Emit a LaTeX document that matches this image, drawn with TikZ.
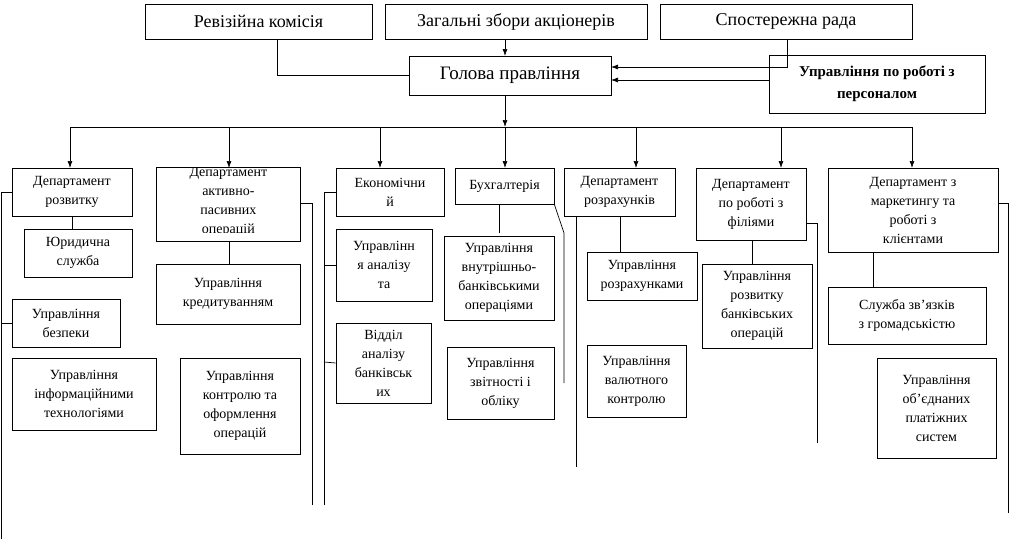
\documentclass[tikz,border=0pt]{standalone}
\usepackage{fontspec}
\setmainfont{Liberation Serif}
\usetikzlibrary{arrows.meta}
\begin{document}
\begin{tikzpicture}[x=1pt,y=-1pt,line width=0.7pt,
 bx/.style={draw,align=center,inner sep=0pt},
 sm/.style={font=\fontsize{14}{19}\selectfont},
 big/.style={font=\fontsize{18}{20}\selectfont},
 arr/.style={-{Latex[length=7pt,width=5pt]}}]
\useasboundingbox (0,0) rectangle (1011,539);
% top
\node[bx,big,minimum width=227pt,minimum height=35pt] (rev) at (258.5,21.5) {Ревізійна комісія};
\node[bx,big,minimum width=262pt,minimum height=35pt] (zag) at (516,21.5) {Загальні збори акціонерів};
\node[bx,big,minimum width=252pt,minimum height=35pt] (spo) at (786,21.5) {Спостережна рада};
\node[bx,font=\fontsize{19}{21}\selectfont,minimum width=202pt,minimum height=39pt] (hol) at (510,75.5) {Голова правління};
\node[bx,font=\bfseries\fontsize{15}{22}\selectfont,minimum width=216pt,minimum height=58pt] (per) at (877,84) {Управління по роботі з\\персоналом};
\draw (277,39) |- (hol.west);
\draw[arr] (505,39) -- (505,56);
\draw[arr] (787,39) |- (611,67);
\draw[arr] (per.west|-0,80) -- (611,80);
\draw[arr] (505,95) -- (505,127);
\draw (70,127) -- (912,127);
\foreach \x in {70,229,380,505,636,781,912} \draw[arr] (\x,127) -- (\x,168);
% departments
\node[bx,sm,minimum width=120pt,minimum height=48pt] (d1) at (72,192) {Департамент\\розвитку};
\begin{scope}
\clip (156,167) rectangle (300,232);
\node[bx,sm,minimum width=144pt,minimum height=74pt,anchor=north west,yshift=2pt] (d2t) at (156,167) {Департамент\\активно-\\пасивних\\операцій};
\end{scope}
\node[draw,minimum width=144pt,minimum height=74pt,anchor=north west,inner sep=0pt] (d2) at (156,167) {};
\node[bx,sm,minimum width=108pt,minimum height=48pt] (d3) at (390,192) {Економічни\\й};
\node[bx,sm,minimum width=99pt,minimum height=36pt] (d4) at (504.5,186) {Бухгалтерія};
\node[bx,sm,minimum width=111pt,minimum height=48pt] (d5) at (619.5,192) {Департамент\\розрахунків};
\node[bx,sm,minimum width=110pt,minimum height=72pt] (d6) at (751,204) {Департамент\\по роботі з\\філіями};
\node[bx,sm,minimum width=170pt,minimum height=84pt] (d7) at (913,210) {Департамент з\\маркетингу та\\роботі з\\клієнтами};
% subs
\node[bx,sm,minimum width=108pt,minimum height=48pt] (s11) at (78,253) {Юридична\\служба};
\node[bx,sm,minimum width=108pt,minimum height=48pt] (s12) at (66,323) {Управління\\безпеки};
\node[bx,sm,minimum width=144pt,minimum height=72pt] (s13) at (84,394) {Управління\\інформаційними\\технологіями};
\node[bx,sm,minimum width=144pt,minimum height=60pt] (s21) at (228,294) {Управління\\кредитуванням};
\node[bx,sm,minimum width=120pt,minimum height=96pt] (s22) at (240,406) {Управління\\контролю та\\оформлення\\операцій};
\node[bx,sm,minimum width=96pt,minimum height=72pt] (s31) at (384,265) {Управлінн\\я аналізу\\та};
\node[bx,sm,minimum width=95pt,minimum height=80pt] (s32) at (383.5,363) {Відділ\\аналізу\\банківськ\\их};
\node[bx,sm,minimum width=110pt,minimum height=84pt] (s41) at (499,278) {Управління\\внутрішньо-\\банківськими\\операціями};
\node[bx,sm,minimum width=107pt,minimum height=72pt] (s42) at (500.5,383) {Управління\\звітності і\\обліку};
\node[bx,sm,minimum width=110pt,minimum height=48pt] (s51) at (642,276) {Управління\\розрахунками};
\node[bx,sm,minimum width=99pt,minimum height=72pt] (s52) at (636.5,381) {Управління\\валютного\\контролю};
\node[bx,sm,minimum width=110pt,minimum height=84pt] (s61) at (757,306) {Управління\\розвитку\\банківських\\операцій};
\node[bx,sm,minimum width=158pt,minimum height=57pt] (s71) at (907,315.5) {Служба зв’язків\\з громадськістю};
\node[bx,sm,minimum width=119pt,minimum height=100pt] (s72) at (936.5,408) {Управління\\об’єднаних\\платіжних\\систем};
% connectors
\draw (72,216) -- (72,229);
\draw (229,241) -- (229,264);
\draw (499,204) -- (499,233);
\draw (620,216) -- (620,252);
\draw (752,240) -- (752,264);
\draw (873,252) -- (873,287);
\draw (d1.west) -- (1,192) -- (1,539);
\draw (1,323) -- (s12.west);
\draw (d2.east|-0,203) -- (312,203) -- (312,505);
\draw (d3.west) -- (324,192) -- (324,505);
\draw (324,265) -- (s31.west);
\draw (324,362) -- (s32.west);
\draw (d4.south east) -- (564,233) -- (564,383);
\draw (576,216) -- (576,467);
\draw (806,223) -- (817,223) -- (817,443);
\draw (998,203) -- (1008,203) -- (1008,513);
\end{tikzpicture}
\end{document}
